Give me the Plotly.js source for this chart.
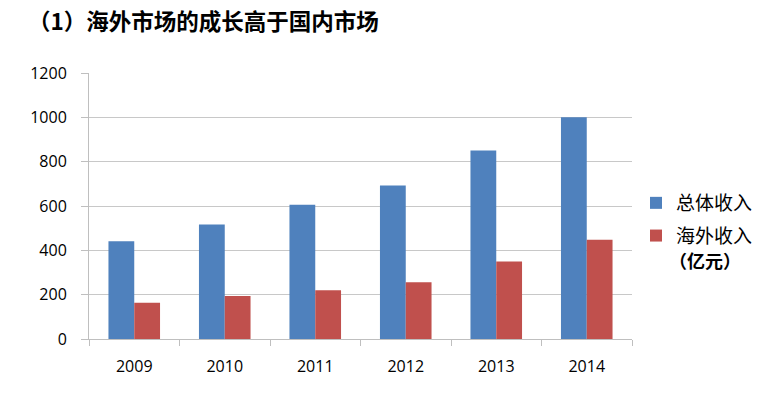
<!DOCTYPE html>
<html>
<head>
<meta charset="utf-8">
<script src="https://cdn.plot.ly/plotly-3.0.1.min.js"></script>
<style>html,body{margin:0;padding:0;background:#fff;}#chart{width:760px;height:395px;}</style>
</head>
<body>
<div id="chart"></div>
<script>
const years = ['2009', '2010', '2011', '2012', '2013', '2014'];
const totalRevenue = [441, 517, 606, 692, 850, 1000];
const overseasRevenue = [164, 194, 220, 256, 350, 448];
const seriesNames = ['总体收入', '海外收入'];
const yTicks = [0, 200, 400, 600, 800, 1000, 1200];
const titleText = '（1）海外市场的成长高于国内市场';
const unitText = '（亿元）';

const cjk = '"Noto Sans CJK SC", "Noto Sans", sans-serif';
const num = '"Open Sans", "Liberation Sans", sans-serif';
const W = 760, H = 395;

const data = [
  {type: 'bar', x: years, y: totalRevenue, name: seriesNames[0], legendgroup: 'g1',
   marker: {color: '#4F81BD', line: {width: 0}}},
  {type: 'bar', x: years, y: overseasRevenue, name: seriesNames[1], legendgroup: 'g2',
   marker: {color: '#C0504D', line: {width: 0}}}
];

const layout = {
  width: W, height: H,
  margin: {l: 89, r: 128, t: 73, b: 56},
  paper_bgcolor: '#fff', plot_bgcolor: '#fff',
  barmode: 'group', bargap: 0.43, bargroupgap: 0,
  title: {text: titleText, font: {family: cjk, size: 22.5, color: '#000', weight: 'bold'},
          x: 28 / W, xref: 'container', xanchor: 'left', y: 1 - 22 / H, yref: 'container', yanchor: 'middle'},
  xaxis: {type: 'category', showgrid: false, showline: true, linecolor: '#BFBFBF', linewidth: 1,
          ticks: 'outside', tickson: 'boundaries', ticklen: 6, tickcolor: '#BFBFBF',
          tickfont: {family: num, size: 16, color: '#000'}, ticklabelstandoff: 13},
  yaxis: {range: [0, 1200], tickvals: yTicks, showgrid: true, gridcolor: '#C8C8C8', gridwidth: 1,
          showline: true, linecolor: '#BFBFBF', linewidth: 1, ticks: 'outside', ticklen: 7,
          tickcolor: '#BFBFBF', tickfont: {family: num, size: 16, color: '#000'},
          ticklabelstandoff: 11, zeroline: false},
  legend: {x: 636 / W, xref: 'container', y: 1 - 184 / H, yref: 'container', xanchor: 'left', yanchor: 'top',
           font: {family: cjk, size: 19, color: '#000'}, tracegroupgap: 5, itemwidth: 30},
  showlegend: true,
  annotations: [{text: unitText, xref: 'paper', yref: 'paper', x: 1.0 + (705 - 632) / 543, y: (339 - 260) / 266,
                 xanchor: 'center', yanchor: 'middle', showarrow: false,
                 font: {family: cjk, size: 18, color: '#000', weight: 'bold'}}]
};

Plotly.newPlot('chart', data, layout, {displayModeBar: false, staticPlot: true});
</script>
</body>
</html>
